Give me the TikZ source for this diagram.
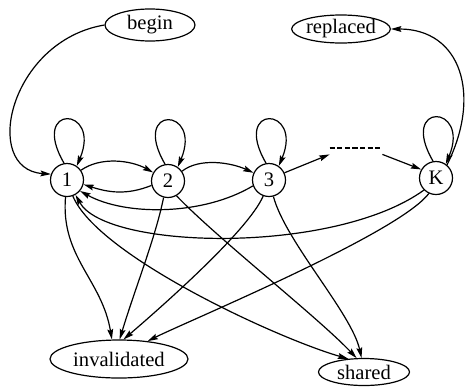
\documentclass[tikz,border=0pt]{standalone}
\usepackage{fontspec}
\setmainfont{Liberation Serif}
\usetikzlibrary{shapes.geometric,arrows.meta}
\tikzset{
  state/.style={circle,draw,line width=0.6pt,minimum size=16.5pt,inner sep=0pt,font=\fontsize{10.3}{12}\selectfont},
  oval/.style={ellipse,draw,line width=0.6pt,inner sep=0pt,font=\fontsize{10.3}{12}\selectfont},
  arr/.style={line width=0.6pt,-{Stealth[length=5.2pt,width=2.9pt,inset=0.8pt]}},
  dotline/.style={line width=1.3pt,dash pattern=on 2.6pt off 1.2pt}
}
\begin{document}
\begin{tikzpicture}[x=0.5pt,y=-0.5pt]
\useasboundingbox (0,0) rectangle (474,386);

% states
\node[state] (n1) at (67,180) {1};
\node[state] (n2) at (168,181) {2};
\node[state] (n3) at (269,180) {3};
\node[state] (nK) at (436,178) {K};
\node[minimum width=26pt,minimum height=6pt,inner sep=0pt] (dots) at (356,148) {};
\draw[dotline] (dots.west) -- (dots.east);

% terminal ovals
\node[oval,minimum width=45pt,minimum height=16pt] (begin) at (150,25) {begin};
\node[oval,minimum width=46pt,minimum height=14pt] (rep) at (341,29) {replaced};
\node[oval,minimum width=69pt,minimum height=19pt] (inv) at (119,359) {invalidated};
\node[oval,minimum width=45.5pt,minimum height=13.5pt] (sh) at (364,372) {shared};

% entry
\draw[arr] (begin.west) .. controls +(-95,16) and +(-70,-5) .. (n1.160);

% self loops
\foreach \s in {n1,n2,n3,nK}
  \draw[arr] (\s.100) .. controls +(-35,-60) and +(25,-60) .. (\s.55);

% transitions along the chain
\draw[arr] (n1.35) .. controls +(20,-14) and +(-22,-12) .. (n2.150);
\draw[arr] (n2.195) .. controls +(-25,10) and +(25,8) .. (n1.-15);
\draw[arr] (n2.35) .. controls +(18,-14) and +(-22,-10) .. (n3.155);
\draw[arr] (n3.200) .. controls +(-50,30) and +(45,25) .. (n1.-40);
\draw[arr] (nK.225) .. controls +(-90,65) and +(30,55) .. (n1.-60);
\draw[arr] (n3.25) -- (dots.south west);
\draw[arr] (dots.south east) -- (nK.150);
\draw[arr] (nK.50) .. controls +(35,-70) and +(70,0) .. (rep.east);

% invalidations
\draw[arr] (n1.-95) .. controls +(-5,60) and +(-10,-60) .. (inv.110);
\draw[arr] (n2.-105) .. controls +(-8,40) and +(15,-50) .. (inv.88);
\draw[arr] (n3.-110) .. controls +(-15,35) and +(35,-30) .. (inv.77);
\draw[arr] (nK.-115) .. controls +(-30,40) and +(40,-20) .. (inv.32);

% sharing
\draw[arr] (n1.-70) .. controls +(25,60) and +(-70,-20) .. (sh.140);
\draw[arr] (n2.-60) .. controls +(40,42) and +(-40,-42) .. (sh.118);
\draw[arr] (n3.-75) .. controls +(12,45) and +(-10,-45) .. (sh.100);
\end{tikzpicture}
\end{document}
